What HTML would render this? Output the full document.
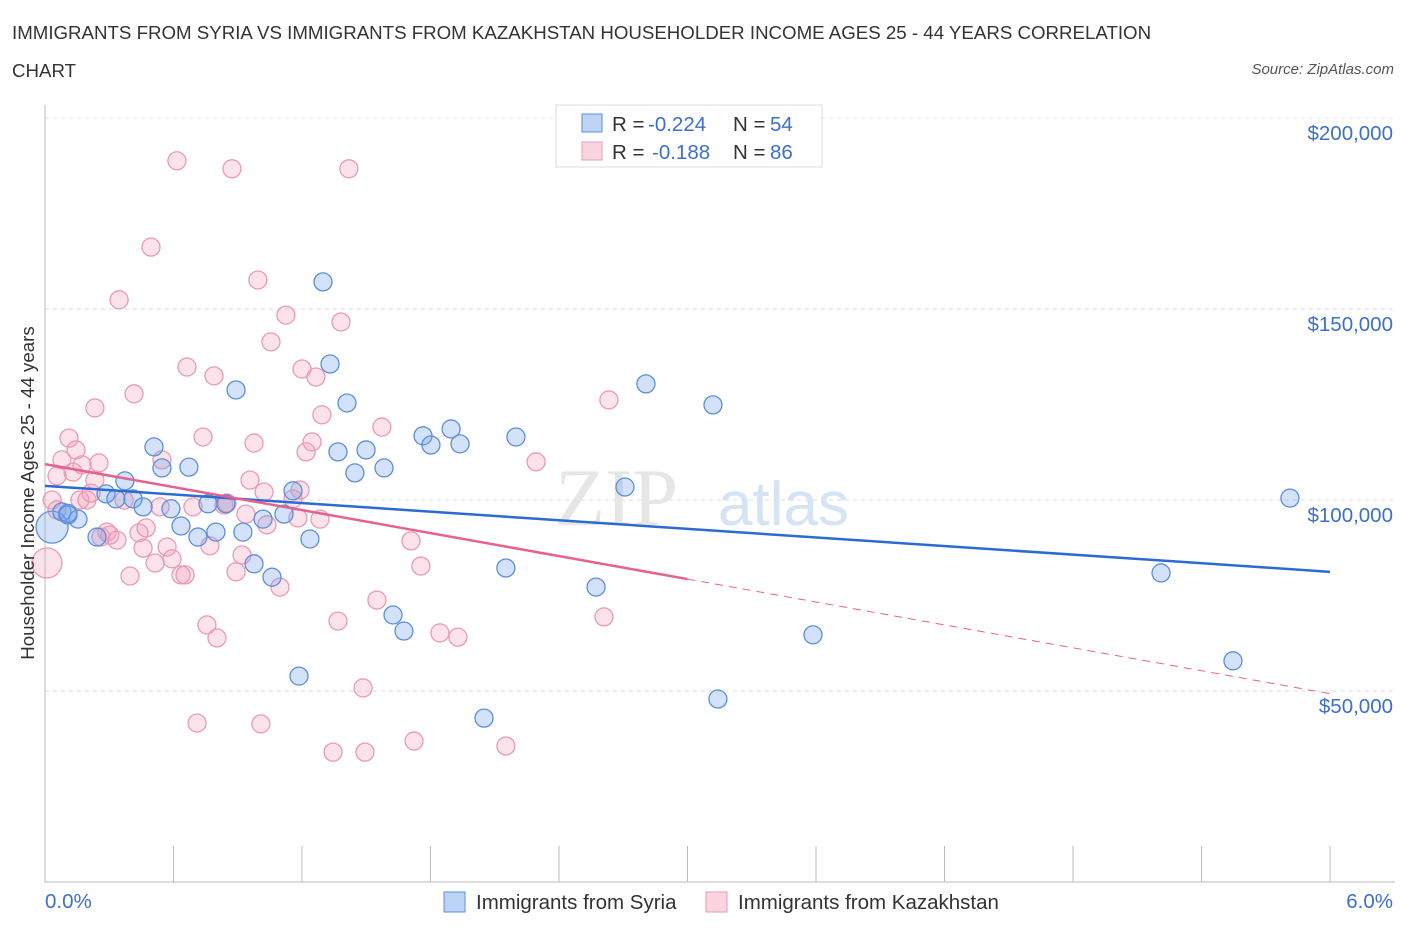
<!DOCTYPE html>
<html><head><meta charset="utf-8"><style>
body{margin:0;background:#fff;font-family:"Liberation Sans",sans-serif;}
#c{position:relative;width:1406px;height:930px;overflow:hidden}
.t{position:absolute;color:#333;font-size:18.7px}
</style></head><body><div id="c">
<div class="t" style="left:12px;top:22px">IMMIGRANTS FROM SYRIA VS IMMIGRANTS FROM KAZAKHSTAN HOUSEHOLDER INCOME AGES 25 - 44 YEARS CORRELATION</div>
<div class="t" style="left:12px;top:60px">CHART</div>
<div class="t" style="right:12px;top:61px;font-size:15px;font-style:italic;color:#555">Source: ZipAtlas.com</div>
<svg id="s" width="1406" height="930" style="position:absolute;left:0;top:0"></svg>
</div>
<script>
const blueX=[.033,.079,.107,.154,.243,.285,.331,.373,.411,.458,.509,.546,.588,.635,.672,.714,.761,.798,.845,.892,.924,.976,1.018,1.060,1.116,1.158,1.186,1.237,1.298,1.331,1.368,1.410,1.447,1.499,1.583,1.625,1.676,1.765,1.802,1.896,1.938,2.050,2.152,2.199,2.573,2.708,2.806,3.119,3.142,3.586,5.211,5.547,5.813,.107];
const blueY=[92.9,96.9,96.1,95.0,90.3,101.6,100.3,105.0,100.3,98.2,113.9,108.4,97.7,93.2,108.6,90.3,99.0,91.6,99.0,128.8,91.6,83.3,95.0,79.8,96.3,102.4,53.9,89.8,157.1,135.6,112.6,125.4,107.1,113.1,108.4,69.9,65.7,116.8,114.4,118.6,114.7,42.9,82.2,116.5,77.2,103.4,130.4,124.9,47.9,64.7,80.9,57.9,100.5,96.5];
const pinkX=[.009,.033,.056,.079,.112,.131,.145,.173,.196,.215,.233,.252,.261,.289,.303,.336,.346,.369,.397,.416,.439,.458,.472,.495,.514,.537,.546,.570,.593,.616,.635,.654,.663,.691,.710,.738,.756,.770,.789,.803,.836,.873,.892,.920,.938,.957,.976,.994,1.008,1.023,1.036,1.055,1.097,1.125,1.158,1.181,1.200,1.219,1.247,1.265,1.284,1.293,1.345,1.368,1.382,1.419,1.485,1.494,1.550,1.573,1.709,1.723,1.755,1.844,1.928,2.152,2.293,2.610,2.633,.233,.056,1.191,.850,.163];
const pinkY=[83.5,100.0,106.3,110.5,116.2,107.3,113.1,109.2,100.0,101.8,124.1,109.7,90.3,91.6,90.8,89.5,152.4,100.0,80.1,127.8,91.4,87.4,92.7,166.2,83.5,98.2,110.5,87.7,84.6,188.8,80.4,80.4,134.8,98.2,41.6,116.5,67.3,88.0,132.5,63.9,98.7,186.7,81.2,85.6,96.3,105.2,114.9,157.6,41.4,102.1,93.5,141.4,77.2,148.4,100.3,95.3,134.3,112.6,115.2,132.2,95.0,122.3,34.0,68.3,146.6,186.7,50.8,34.0,73.8,119.1,89.3,36.9,82.7,65.2,64.1,35.6,110.0,69.4,126.2,105.2,97.4,102.6,99.2,100.0];
const yTicks=[50,100,150,200];
const yTickLabels=["$50,000","$100,000","$150,000","$200,000"];
const blueTrend=[103.7,81.2];
const pinkTrend=[109.4,79.3,49.3];
const X=v=>45+v/6*1285, Y=v=>882-v/50*191;
const s=document.getElementById('s');const NS='http://www.w3.org/2000/svg';
function mk(t,a,p){const e=document.createElementNS(NS,t);for(const k in a)e.setAttribute(k,a[k]);(p||s).appendChild(e);return e;}
yTicks.forEach((v,i)=>{
 const g=mk('line',{x1:45,x2:1395,y1:Y(v),y2:Y(v),stroke:'#ddd','stroke-dasharray':'4,4'});
 
 const t=mk('text',{x:1393,y:Y(v)+22,'text-anchor':'end',fill:'#3d6fcc','font-size':20.5,'font-family':'Liberation Sans'});
 t.textContent=yTickLabels[i];
});
let l=mk('line',{x1:45,x2:1395,y1:118,y2:118,stroke:'#e5e5e5','stroke-dasharray':'4,4'});
l=mk('line',{x1:45,x2:45,y1:105,y2:882,stroke:'#bbb'});
l=mk('line',{x1:45,x2:1395,y1:882,y2:882,stroke:'#bbb'});
for(let i=0;i<=10;i++){const e=mk('line',{x1:X(i*0.6),x2:X(i*0.6),y1:846,y2:882,stroke:'#bbb'});}
let w=mk('text',{x:555,y:525,'font-size':82,fill:'#e6e6e6','font-family':'Liberation Serif'});w.textContent='ZIP';
w=mk('text',{x:718,y:525,'font-size':62,fill:'#d5e3f5','font-family':'Liberation Sans'});w.textContent='atlas';

function dots(xs,ys,fill,stroke,name){xs.forEach((x,i)=>{const r=(i==0)?(name=='blue-point'?16:15):9;
 const c=mk('circle',{cx:X(x),cy:Y(ys[i]),r:r,fill:fill,stroke:stroke,'stroke-width':1.3});
 });}
dots(pinkX,pinkY,'rgba(244,160,185,0.3)','#eb9ab4','pink-point');
dots(blueX,blueY,'rgba(110,160,235,0.3)','#5b8fdb','blue-point');
l=mk('line',{x1:X(0),x2:X(6),y1:Y(blueTrend[0]),y2:Y(blueTrend[1]),stroke:'#2b6bd2','stroke-width':2.5});
l=mk('line',{x1:X(0),x2:X(3),y1:Y(pinkTrend[0]),y2:Y(pinkTrend[1]),stroke:'#e6628e','stroke-width':2.5});
l=mk('line',{x1:X(3),x2:X(6),y1:Y(pinkTrend[1]),y2:Y(pinkTrend[2]),stroke:'#e6628e','stroke-width':1,'stroke-dasharray':'8,6'});
const lg=mk('g',{});
mk('rect',{x:556,y:105,width:266,height:62,fill:'#fff',stroke:'#ddd'},lg);
mk('rect',{x:582,y:114,width:20,height:18,fill:'rgba(110,160,235,0.45)',stroke:'#5b8fdb'},lg);
mk('rect',{x:582,y:142,width:20,height:18,fill:'rgba(244,160,185,0.45)',stroke:'#eb9ab4'},lg);
function tx(x,y,str,col,p,anchor){const t=mk('text',{x:x,y:y,fill:col,'font-size':20.5,'font-family':'Liberation Sans','text-anchor':anchor||'start'},p||s);t.textContent=str;return t;}
tx(612,131,'R = ','#333',lg);tx(648,131,'-0.224','#3d6fcc',lg);tx(733,131,'N = ','#333',lg);tx(770,131,'54','#3d6fcc',lg);
tx(612,159,'R = ','#333',lg);tx(652,159,'-0.188','#3d6fcc',lg);tx(733,159,'N = ','#333',lg);tx(770,159,'86','#3d6fcc',lg);
let a=tx(45,908,'0.0%','#3d6fcc');
a=tx(1393,908,'6.0%','#3d6fcc',null,'end');
const bl=mk('g',{});
mk('rect',{x:444,y:892,width:21,height:20,fill:'rgba(110,160,235,0.45)',stroke:'#5b8fdb'},bl);
tx(476,909,'Immigrants from Syria','#333',bl);
mk('rect',{x:706,y:892,width:21,height:20,fill:'rgba(244,160,185,0.45)',stroke:'#eb9ab4'},bl);
tx(738,909,'Immigrants from Kazakhstan','#333',bl);
const yt=mk('text',{x:34,y:493,transform:'rotate(-90 34 493)','text-anchor':'middle','font-size':18.7,fill:'#333','font-family':'Liberation Sans'});
yt.textContent='Householder Income Ages 25 - 44 years';
</script></body></html>
